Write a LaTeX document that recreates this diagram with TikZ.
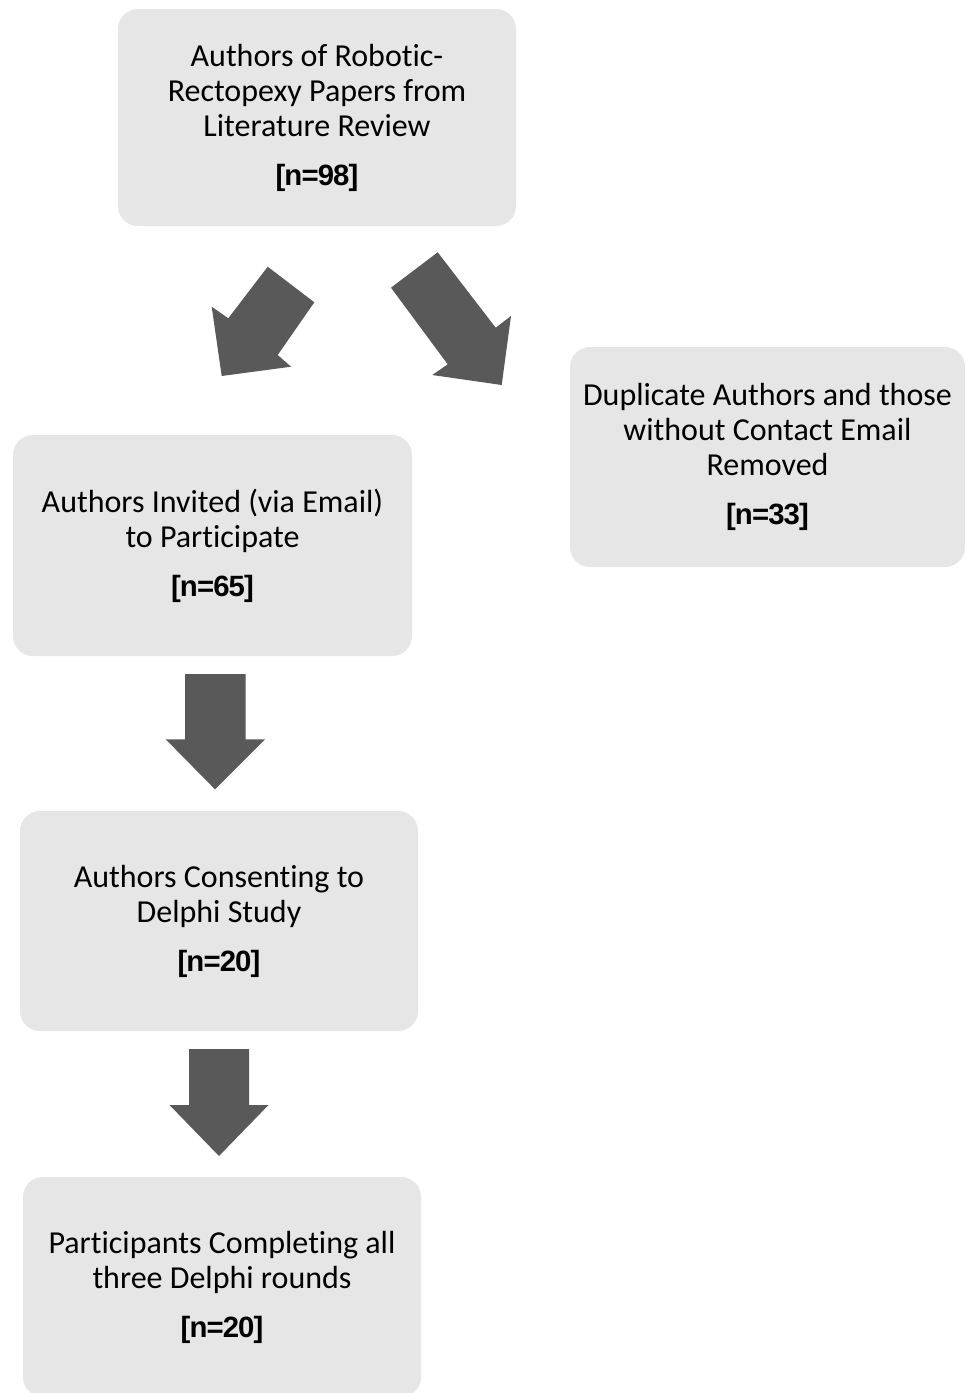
\documentclass[tikz,border=0pt]{standalone}
\usepackage{fontspec}
\setmainfont[RawFeature={-liga;-clig;-calt}]{Carlito}
\newfontfamily\nfont[LetterSpace=-3]{Liberation Sans}
\definecolor{boxfill}{HTML}{E6E6E6}
\definecolor{arrowc}{HTML}{595959}
\tikzset{
  flowbox/.style={rectangle, rounded corners=15pt, fill=boxfill, draw=none,
    minimum width=298.5pt, minimum height=165pt, inner sep=0pt, align=center,
    font=\fontsize{24}{26.25}\selectfont, text=black},
  blockarrow/.style={fill=arrowc, draw=none}
}
\newcommand{\nval}[1]{\\[10.5pt]{\nfont\bfseries\fontsize{22}{26.25}\selectfont #1}}
\begin{document}
\begin{tikzpicture}[x=0.75pt,y=-0.75pt]
\clip (0,0) rectangle (966,1393);
\fill[white] (0,0) rectangle (966,1393);
\node[flowbox, minimum height=162.75pt] (b1) at (317,117.5) {Authors of Robotic-\\Rectopexy Papers from\\Literature Review\nval{[n=98]}};
\node[flowbox, minimum width=299.25pt, minimum height=165.75pt] (b2) at (212.5,545.5) {Authors Invited (via Email)\\to Participate\nval{[n=65]}};
\node[flowbox, minimum width=296.25pt] (b3) at (767.5,457) {Duplicate Authors and those\\without Contact Email\\Removed\nval{[n=33]}};
\node[flowbox] (b4) at (219,921) {Authors Consenting to\\Delphi Study\nval{[n=20]}};
\node[flowbox] (b5) at (222,1287) {Participants Completing all\\three Delphi rounds\nval{[n=20]}};
% block arrows
\fill[blockarrow] (267.7,266.7) -- (314.3,302.3) -- (277.7,355) -- (291,366.7) -- (221.7,376) -- (211.7,306.7) -- (228.3,318.3) -- cycle;
\fill[blockarrow] (437.7,252.3) -- (391,287.7) -- (447.7,364.3) -- (432.3,375) -- (501.7,385) -- (511,316) -- (495.7,327.7) -- cycle;
\fill[blockarrow] (185,674) -- (245.7,674) -- (245.7,739.3) -- (265,739.3) -- (215,789.3) -- (165.7,739.3) -- (185,739.3) -- cycle;
\fill[blockarrow] (189,1049) -- (249,1049) -- (249,1105) -- (268.5,1105) -- (219,1156) -- (169.5,1105) -- (189,1105) -- cycle;
\end{tikzpicture}
\end{document}
